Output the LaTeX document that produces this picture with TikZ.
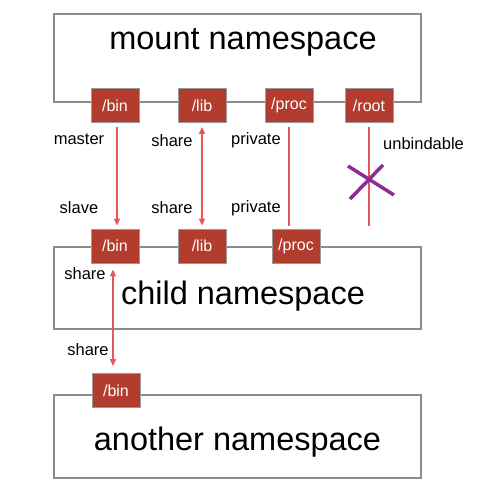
\documentclass[tikz,border=0pt]{standalone}
\usepackage{fontspec}
\setmainfont{Liberation Sans}
\usetikzlibrary{arrows.meta,calc}
\definecolor{tagred}{HTML}{B23C2D}
\definecolor{linered}{HTML}{E8585A}
\definecolor{boxgray}{HTML}{8C8C8C}
\definecolor{xpurple}{HTML}{8E2C97}
\begin{document}
\begin{tikzpicture}[x=1pt,y=-1pt,
  nsbox/.style={draw=boxgray,line width=1.8pt,minimum width=367pt,inner sep=0pt},
  tag/.style={fill=tagred,draw=gray!80,line width=0.8pt,minimum width=48pt,minimum height=34pt,inner sep=0pt,text=white,font=\fontsize{16}{16}\selectfont},
  bigtxt/.style={font=\fontsize{32.5}{32.5}\selectfont,inner sep=0pt},
  lbl/.style={font=\fontsize{16.5}{16.5}\selectfont,inner sep=0pt},
  conn/.style={draw=linered,line width=1.5pt},
  tipped/.style={conn,-{Triangle[length=7pt,width=6pt]}},
  dtipped/.style={conn,{Triangle[length=7pt,width=6pt]}-{Triangle[length=7pt,width=6pt]}}]
\useasboundingbox (0,0) rectangle (500,501);
% boxes
\node[nsbox,minimum height=88pt] (mns) at (237.5,58) {};
\node[nsbox,minimum height=82pt] (cns) at (237.5,288) {};
\node[nsbox,minimum height=83pt] (ans) at (237.5,436.5) {};
\node[bigtxt] (mt) at (243,42) {mount namespace};
\node[bigtxt] (ct) at (243,296) {child namespace};
\node[bigtxt] (at) at (237.5,442) {another namespace};
% top tags
\node[tag] (tb) at (115,105.5) {/bin};
\node[tag] (tl) at (202,105.5) {/lib};
\node[tag] (tp) at (289,105.5) {/proc};
\node[tag] (tr) at (369,105.5) {/root};
% child tags
\node[tag] (cb) at (115,246) {/bin};
\node[tag] (cl) at (202,246) {/lib};
\node[tag] (cp) at (296,246) {/proc};
% another tag
\node[tag] (ab) at (116,390.5) {/bin};
% labels
\node[lbl] (l1) at (79,139) {master};
\node[lbl] (l2) at (172,141) {share};
\node[lbl] (l3) at (256,140) {private};
\node[lbl,anchor=west] (l4) at (383,144) {unbindable};
\node[lbl] (l5) at (79,208) {slave};
\node[lbl] (l6) at (172,208) {share};
\node[lbl] (l7) at (256,208) {private};
\node[lbl] (l8) at (85,274) {share};
\node[lbl] (l9) at (88,350) {share};
% connectors
\draw[tipped,shorten <=4pt,shorten >=3pt] ([xshift=2pt]tb.south) -- ([xshift=2pt]cb.north);
\draw[dtipped,shorten <=4pt,shorten >=3pt] (tl.south) -- (cl.north);
\draw[conn,shorten <=4pt,shorten >=3pt] (tp.south) -- (tp.south |- cp.north);
\coordinate (rootend) at (369,226);
\draw[conn,shorten <=4pt] (tr.south) -- (rootend);
\draw[dtipped,shorten <=6pt,shorten >=7pt] ([xshift=-2pt]cb.south) -- ([xshift=-3pt]ab.north);
% purple cross
\coordinate (xc) at (369,180);
\draw[xpurple,line width=3.5pt] ($(xc)+(-21,-14)$) -- ($(xc)+(25,15)$);
\draw[xpurple,line width=3.5pt] ($(xc)+(14,-15)$) -- ($(xc)+(-19,19)$);
\end{tikzpicture}
\end{document}
